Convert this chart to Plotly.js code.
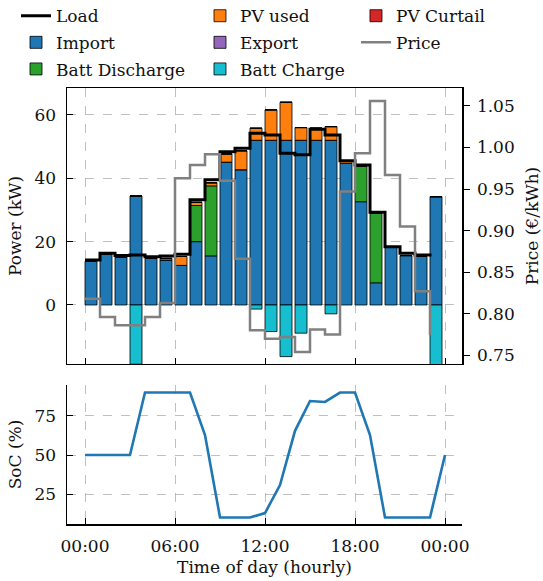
<!DOCTYPE html>
<html>
<head>
<meta charset="utf-8">
<script src="https://cdn.plot.ly/plotly-3.0.1.min.js"></script>
<style>html,body{margin:0;padding:0;background:#fff}#chart{width:543px;height:581px}</style>
</head>
<body>
<div id="chart"></div>
<script>
// ---- data ----
const hours = [0,1,2,3,4,5,6,7,8,9,10,11,12,13,14,15,16,17,18,19,20,21,22,23];
const importKW = [13.8,16.0,15.1,34.4,14.7,14.2,12.5,20.0,15.5,45.1,42.7,52.0,52.0,52.0,52.0,52.0,52.0,44.7,32.6,7.0,18.2,15.6,15.3,34.2];
const battDischarge = [0,0,0,0,0,0,0,11.4,22.1,0,0,0,0,0,0,0,0,0,11.3,21.9,0,0,0,0];
const pvUsed = [0,0,0,0,0,0.5,2.8,1.0,1.0,2.6,6.0,3.8,9.6,12.0,4.0,3.8,4.3,0.6,0,0,0,0,0,0];
const pvCurtail = [0,0,0,0,0,0,0,0,0,0,0,0,0,0,0,0,0,0,0,0,0,0,0,0];
const exportKW = [0,0,0,0,0,0,0,0,0,0,0,0,0,0,0,0,0,0,0,0,0,0,0,0];
const battCharge = [0,0,0,-18.7,0,0,0,0,0,0,0,-1.3,-8.4,-16.3,-8.9,0,-2.8,0,0,0,0,0,0,-18.9];
const load = [14.2,16.3,15.6,15.8,15.2,15.5,16.0,33.2,39.5,48.4,49.5,54.2,53.7,47.9,47.4,55.5,53.7,45.5,44.2,29.3,18.4,16.3,15.8,15.3];
const price = [0.818,0.796,0.786,0.786,0.796,0.813,0.963,0.979,0.992,0.960,0.866,0.780,0.770,0.772,0.754,0.781,0.775,0.947,0.993,1.056,0.967,0.905,0.827,0.774];
const socHours = [0,1,2,3,4,5,6,7,8,9,10,11,12,13,14,15,16,17,18,19,20,21,22,23,24];
const soc = [50,50,50,50,90,90,90,90,62.8,10,10,10,12.8,30.7,65.5,84.6,84,90,90,62.8,10,10,10,10,50];
const xTickVals = [0,6,12,18,24];
const xTickText = ['00:00','06:00','12:00','18:00','00:00'];

const FONT = 'DejaVu Serif, serif';
const FS = 17;
const TXT = '#111';

function barTrace(name, y, color, legend, rank){
  return {type:'bar', name:name, x:hours, y:y, width:0.8, offset:0,
    marker:{color:color, line:{color:'#000', width:0.8}},
    xaxis:'x', yaxis:'y', legend:legend, legendrank:rank, legendgroup:name};
}

const traces = [
  barTrace('Import', importKW, '#1f77b4', 'legend', 2),
  barTrace('Batt Discharge', battDischarge, '#2ca02c', 'legend', 3),
  barTrace('PV used', pvUsed, '#ff7f0e', 'legend2', 1),
  barTrace('PV Curtail', pvCurtail, '#d62728', 'legend3', 1),
  barTrace('Export', exportKW, '#9467bd', 'legend2', 2),
  barTrace('Batt Charge', battCharge, '#17becf', 'legend2', 3),
  {type:'scatter', mode:'lines', name:'Load', x:hours, y:load, line:{shape:'hv', color:'#000', width:3},
    xaxis:'x', yaxis:'y', legend:'legend', legendrank:1, legendgroup:'Load'},
  {type:'scatter', mode:'lines', name:'Price', x:hours, y:price, line:{shape:'hv', color:'#808080', width:2.5},
    xaxis:'x', yaxis:'y2', legend:'legend3', legendrank:2, legendgroup:'Price'},
  {type:'scatter', mode:'lines', name:'SoC', x:socHours, y:soc, line:{color:'#1f77b4', width:2.6},
    xaxis:'x2', yaxis:'y3', showlegend:false}
];

const grid = {showgrid:true, gridcolor:'#b0b0b0', griddash:'dash', gridwidth:0.8};
const xRange = [-1.2, 25.133];

function legendAt(x){
  return {x:x, y:1.206, xanchor:'left', yanchor:'top',
    orientation:'v', bgcolor:'rgba(0,0,0,0)', borderwidth:0,
    font:{family:FONT, size:FS, color:TXT}, tracegroupgap:1.5, itemwidth:30, traceorder:'grouped'};
}

const layout = {
  width:543, height:581,
  margin:{l:67, r:81, t:88, b:57, autoexpand:false},
  paper_bgcolor:'#fff', plot_bgcolor:'#fff',
  font:{family:FONT, size:FS, color:TXT},
  barmode:'relative', bargap:0,
  showlegend:true,
  legend: legendAt(-0.1291),
  legend2: legendAt(0.3367),
  legend3: legendAt(0.7316),
  xaxis: Object.assign({domain:[0,1], anchor:'y', range:xRange, tickvals:xTickVals, showticklabels:false,
    ticks:'inside', ticklen:6, tickcolor:'#000', showline:true, linecolor:'#000', linewidth:1.5, mirror:true,
    zeroline:false}, grid),
  yaxis: Object.assign({domain:[0.367,1], range:[-18.63,68.5], tickvals:[0,20,40,60],
    ticks:'inside', ticklen:6, tickcolor:'#000', showline:true, linecolor:'#000', linewidth:1.5, mirror:true,
    zeroline:false, ticklabelstandoff:6,
    title:{text:'Power (kW)', font:{family:FONT, size:FS}, standoff:8}}, grid),
  yaxis2: {overlaying:'y', side:'right', anchor:'x', range:[0.7395,1.0716],
    tickvals:[0.75,0.80,0.85,0.90,0.95,1.00,1.05], tickformat:'.2f',
    ticks:'outside', ticklen:6, tickcolor:'#000', showgrid:false, zeroline:false,
    showline:true, linecolor:'#000', linewidth:1.5, ticklabelstandoff:4,
    title:{text:'Price (€/kWh)', font:{family:FONT, size:FS}, standoff:12}},
  xaxis2: Object.assign({domain:[0,1], anchor:'y3', range:xRange, tickvals:xTickVals, ticktext:xTickText,
    ticks:'inside', ticklen:6, tickcolor:'#000', showline:true, linecolor:'#000', linewidth:1.5,
    zeroline:false, ticklabelstandoff:6,
    title:{text:'Time of day (hourly)', font:{family:FONT, size:FS}, standoff:6}}, grid),
  yaxis3: Object.assign({domain:[0,0.319], anchor:'x2', range:[5.8,94.9], tickvals:[25,50,75],
    ticks:'inside', ticklen:6, tickcolor:'#000', showline:true, linecolor:'#000', linewidth:1.5,
    zeroline:false, ticklabelstandoff:6,
    title:{text:'SoC (%)', font:{family:FONT, size:FS}, standoff:8}}, grid)
};

Plotly.newPlot('chart', traces, layout, {displayModeBar:false, staticPlot:true});
</script>
</body>
</html>
